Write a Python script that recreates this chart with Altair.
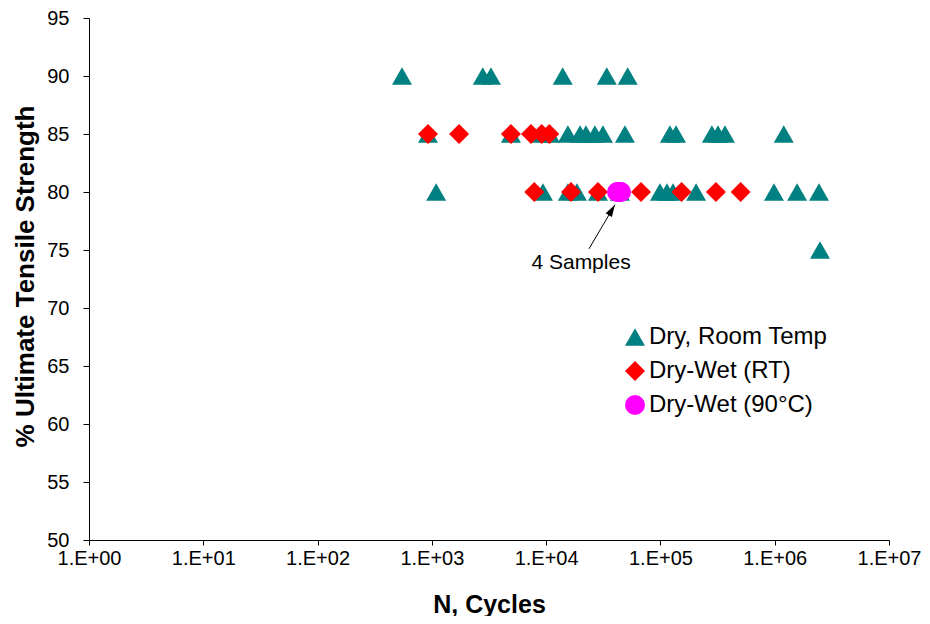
import altair as alt
import pandas as pd

series_names = ["Dry, Room Temp", "Dry-Wet (RT)", "Dry-Wet (90°C)"]
series_colors = ["#008080", "#FF0000", "#FF00FF"]
series_shapes = ["triangle-up", "diamond", "circle"]

dry_cycles = [548, 2790, 3290, 13960, 33900, 51700,
              925, 4920, 9140, 10800, 15500, 19800, 22300, 26700, 31400, 48900,
              121000, 137000, 282000, 319000, 367000, 1200000,
              1090, 9380, 15500, 18600, 28400, 44200, 99000, 114000, 129000, 205000,
              985000, 1570000, 2440000,
              2490000]
dry_uts = [90, 90, 90, 90, 90, 90,
           85, 85, 85, 85, 85, 85, 85, 85, 85, 85,
           85, 85, 85, 85, 85, 85,
           80, 80, 80, 80, 80, 80, 80, 80, 80, 80,
           80, 80, 80,
           75]

dw_cycles = [925, 1730, 4920, 7370, 9140, 10660,
             7870, 16500, 28400, 67600, 153000, 306000, 503000]
dw_uts = [85, 85, 85, 85, 85, 85,
          80, 80, 80, 80, 80, 80, 80]

hot_cycles = [41700, 42900, 44000, 45200]
hot_uts = [80, 80, 80, 80]

x_ticks = [1, 10, 100, 1000, 10000, 100000, 1000000, 10000000]
y_ticks = [50, 55, 60, 65, 70, 75, 80, 85, 90, 95]

note_text = ["4 Samples"]
note_cycles = [20200]
note_uts = [73.9]
arrow_cycles = [23700, 40000]
arrow_uts = [75.1, 78.9]

rows = []
for name, ns, ys in zip(series_names, [dry_cycles, dw_cycles, hot_cycles], [dry_uts, dw_uts, hot_uts]):
    for n, v in zip(ns, ys):
        rows.append({"series": name, "cycles": n, "uts": v})
df = pd.DataFrame(rows)

FONT = "Liberation Sans"

x_enc = alt.X("cycles:Q",
              scale=alt.Scale(type="log", domain=[1, 10000000], nice=False),
              axis=alt.Axis(values=x_ticks, grid=False, title="N, Cycles",
                            labelExpr="'1.E+0' + round(log(datum.value) / LN10)",
                            labelFlush=False, labelOverlap=False,
                            labelFontSize=20, labelPadding=3, tickSize=5,
                            titleFontSize=25, titleFontWeight="bold",
                            titleX=400, titleY=64, titleBaseline="middle"))
y_enc = alt.Y("uts:Q",
              scale=alt.Scale(domain=[50, 95], nice=False, zero=False),
              axis=alt.Axis(values=y_ticks, grid=False, title="% Ultimate Tensile Strength",
                            labelFlush=False, labelOverlap=False,
                            labelFontSize=20, labelPadding=14, tickSize=6,
                            titleFontSize=26, titleFontWeight="bold",
                            titleX=-64, titleY=258, titleBaseline="middle", titleAngle=-90,
                            titleAlign="center"))

points = alt.Chart(df).mark_point(filled=True, opacity=1, size=400, strokeWidth=0).encode(
    x=x_enc, y=y_enc,
    color=alt.Color("series:N", scale=alt.Scale(domain=series_names, range=series_colors),
                    legend=alt.Legend(title=None, orient="none", legendX=534, legendY=307,
                                      labelFontSize=24, labelFont=FONT, symbolSize=400,
                                      rowPadding=10, labelLimit=400, symbolStrokeWidth=0,
                                      symbolOpacity=1, padding=0, labelOffset=2)),
    shape=alt.Shape("series:N", scale=alt.Scale(domain=series_names, range=series_shapes)),
)

arrow_df = pd.DataFrame({"cycles": arrow_cycles, "uts": arrow_uts})
arrow_line = alt.Chart(arrow_df).mark_line(color="black", strokeWidth=1).encode(x=x_enc, y=y_enc)
arrow_head = alt.Chart(arrow_df.tail(1)).mark_point(
    shape="M0,0L0.3,1L-0.3,1Z", filled=True, color="black", opacity=1, size=576, angle=31,
    strokeWidth=0).encode(x=x_enc, y=y_enc)

note_df = pd.DataFrame({"cycles": note_cycles, "uts": note_uts, "text": note_text})
note = alt.Chart(note_df).mark_text(fontSize=21, font=FONT, color="black").encode(
    x=x_enc, y=y_enc, text="text:N")

chart = alt.layer(points, arrow_line, arrow_head, note).properties(
    width=800, height=522,
    padding={"left": 81, "top": 10, "right": 33, "bottom": 76},
    autosize=alt.AutoSizeParams(type="none"),
).configure_view(stroke=None).configure_axis(
    labelFont=FONT, titleFont=FONT, labelColor="black", titleColor="black",
    domainColor="black", tickColor="black", domainWidth=1, tickWidth=1,
)

chart.save("out.html", embed_options={"renderer": "svg", "actions": False})
